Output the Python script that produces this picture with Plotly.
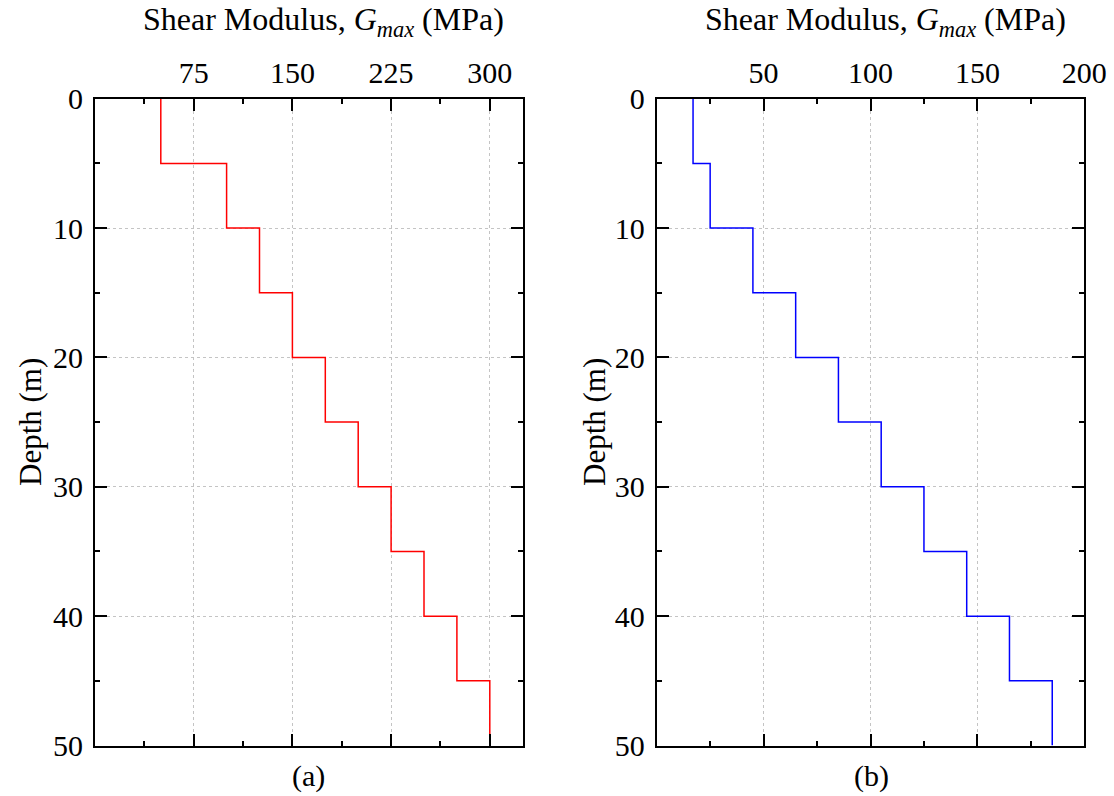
import plotly.graph_objects as go

# Depth layer boundaries (m)
depth_top = [0, 5, 10, 15, 20, 25, 30, 35, 40, 45]
depth_bottom = [5, 10, 15, 20, 25, 30, 35, 40, 45, 50]
# Shear modulus per layer (MPa)
gmax_a = [50, 100, 125, 150, 175, 200, 225, 250, 275, 300]
gmax_b = [17, 25, 45, 65, 85, 105, 125, 145, 165, 185]

xticks_a = [75, 150, 225, 300]
xticks_b = [50, 100, 150, 200]
yticks = [0, 10, 20, 30, 40, 50]


def step_xy(vals):
    xs, ys = [], []
    for v, t, b in zip(vals, depth_top, depth_bottom):
        xs += [v, v]
        ys += [t, b]
    return xs, ys


W, H = 1114, 796
FONT = "Liberation Serif, Times New Roman, serif"

fig = go.Figure()
xa, ya = step_xy(gmax_a)
xb, yb = step_xy(gmax_b)
fig.add_trace(go.Scatter(x=xa, y=ya, mode="lines", line=dict(color="#ff0000", width=1.5),
                         xaxis="x", yaxis="y", showlegend=False))
fig.add_trace(go.Scatter(x=xb, y=yb, mode="lines", line=dict(color="#0000ff", width=1.5),
                         xaxis="x2", yaxis="y2", showlegend=False))

ytop, ybot = 98.7, 745.5
ydom = [1 - ybot / H, 1 - ytop / H]
common_x = dict(side="top", showline=True, linecolor="black", linewidth=2, mirror="allticks",
                ticks="inside", ticklen=12, tickwidth=2, tickcolor="black",
                tickfont=dict(family=FONT, size=30, color="black"),
                showgrid=True, gridcolor="#c4c4c4", griddash="3px,3px", gridwidth=1,
                zeroline=False, ticklabelstandoff=2, automargin=False)
common_y = dict(autorange=False, range=[50, 0], domain=ydom, showline=True, linecolor="black",
                linewidth=2, mirror="allticks", ticks="inside", ticklen=12, tickwidth=2,
                tickcolor="black", tickvals=yticks,
                tickfont=dict(family=FONT, size=30, color="black"),
                showgrid=True, gridcolor="#c4c4c4", griddash="3px,3px", gridwidth=1,
                zeroline=False, automargin=False, ticklabelstandoff=4,
                minor=dict(dtick=5, tick0=0, ticks="inside", ticklen=5, tickwidth=2,
                           tickcolor="black", showgrid=False))

fig.update_layout(
    width=W, height=H, margin=dict(l=0, r=0, t=0, b=0),
    paper_bgcolor="white", plot_bgcolor="white",
    font=dict(family=FONT, color="black"),
    xaxis=dict(common_x, range=[0, 325], domain=[95 / W, 522.7 / W], anchor="y",
               tickvals=xticks_a,
               minor=dict(dtick=37.5, tick0=0, ticks="inside", ticklen=5, tickwidth=2,
                          tickcolor="black", showgrid=False)),
    yaxis=dict(common_y, anchor="x"),
    xaxis2=dict(common_x, range=[0, 200], domain=[656.7 / W, 1084.3 / W], anchor="y2",
                tickvals=xticks_b,
                minor=dict(dtick=25, tick0=0, ticks="inside", ticklen=5, tickwidth=2,
                           tickcolor="black", showgrid=False)),
    yaxis2=dict(common_y, anchor="x2"),
)

title_txt = "Shear Modulus, <i>G</i><sub><i>max</i></sub> (MPa)"
ann = []
for cx, ylx in [(323, 30), (885, 594)]:
    ann.append(dict(x=cx / W, y=1 - 22 / H, xref="paper", yref="paper", text=title_txt,
                    showarrow=False, font=dict(family=FONT, size=32, color="black"),
                    xanchor="center", yanchor="middle"))
    ann.append(dict(x=ylx / W, y=1 - 422 / H, xref="paper", yref="paper", text="Depth (m)",
                    textangle=-90, showarrow=False,
                    font=dict(family=FONT, size=31, color="black"),
                    xanchor="center", yanchor="middle"))
ann.append(dict(x=308 / W, y=1 - 776 / H, xref="paper", yref="paper", text="(a)",
                showarrow=False, font=dict(family=FONT, size=30, color="black"),
                xanchor="center", yanchor="middle"))
ann.append(dict(x=871 / W, y=1 - 776 / H, xref="paper", yref="paper", text="(b)",
                showarrow=False, font=dict(family=FONT, size=30, color="black"),
                xanchor="center", yanchor="middle"))
fig.update_layout(annotations=ann)

fig.write_html("out.html")
